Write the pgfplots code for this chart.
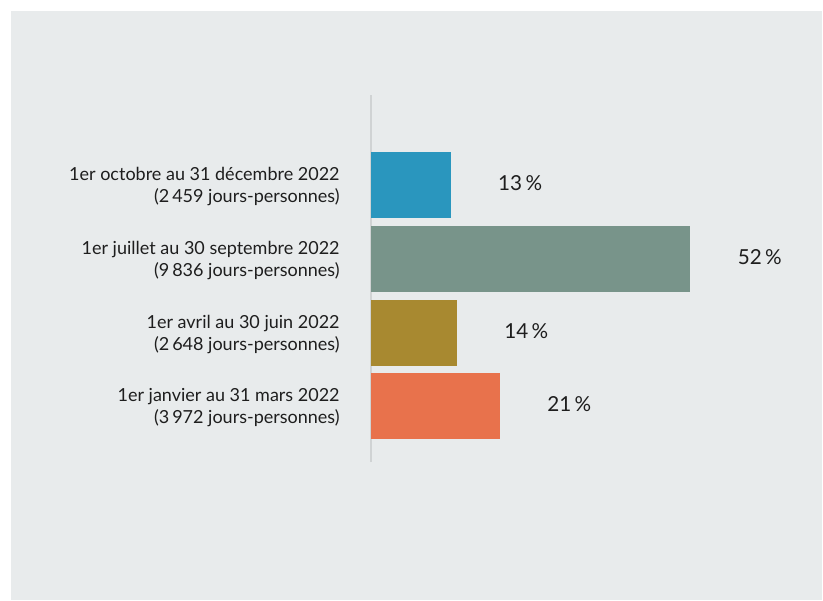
\documentclass[border=0pt]{standalone}
\usepackage{pgfplots}
\pgfplotsset{compat=1.18}
\usepackage{fontspec}
\setmainfont{Lato}
\definecolor{bgpanel}{HTML}{E8EBEC}
\definecolor{cblue}{HTML}{2A96BE}
\definecolor{cgreen}{HTML}{78948A}
\definecolor{cgold}{HTML}{A88930}
\definecolor{corange}{HTML}{E8724C}
\definecolor{axgray}{HTML}{D0D3D4}
\definecolor{txt}{HTML}{1E1E1E}
\begin{document}
\begin{tikzpicture}[x=0.75pt,y=0.75pt]
\useasboundingbox (0,0) rectangle (823,600);
\fill[white] (0,0) rectangle (823,600);
\fill[bgpanel] (11,0) rectangle (822,589);
\begin{axis}[
  at={(371*0.75pt,138*0.75pt)}, anchor=south west,
  scale only axis,
  width=430*0.75pt, height=367*0.75pt,
  xbar, bar shift=0pt, bar width=49.5pt,
  xmin=0, xmax=70,
  ymin=-0.752, ymax=4.22,
  axis x line=none,
  axis y line*=left,
  y axis line style={axgray, line width=1.5pt, -},
  ytick={0,1,2,3},
  yticklabels={{1er janvier au 31 mars 2022\\(3\,972 jours-personnes)},
               {1er avril au 30 juin 2022\\(2\,648 jours-personnes)},
               {1er juillet au 30 septembre 2022\\(9\,836 jours-personnes)},
               {1er octobre au 31 décembre 2022\\(2\,459 jours-personnes)}},
  major tick length=0pt,
  yticklabel style={align=right, font=\fontsize{13.5}{16.5}\selectfont, text=txt, xshift=-20pt, yshift=-1pt},
  clip=false,
  /pgf/number format/assume math mode=true,
  nodes near coords={\pgfmathprintnumber{\pgfplotspointmeta}\kern2.5pt\%},
  nodes near coords style={anchor=west, xshift=32pt, yshift=1.5pt, font=\fontsize{15.5}{18}\selectfont, text=txt},
  every axis plot/.append style={draw=none},
]
\addplot[fill=corange] coordinates {(21,0)};
\addplot[fill=cgold] coordinates {(14,1)};
\addplot[fill=cgreen] coordinates {(52,2)};
\addplot[fill=cblue] coordinates {(13,3)};
\end{axis}
\end{tikzpicture}
\end{document}
